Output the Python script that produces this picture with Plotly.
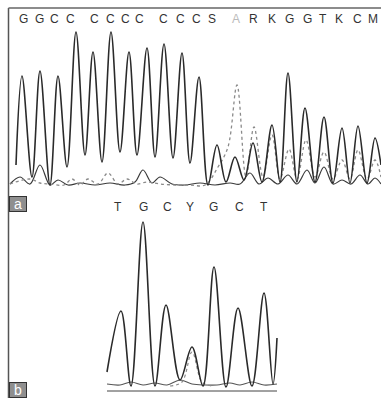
import plotly.graph_objects as go

# ---------------- Panel a: base calls ----------------
a_bases = ["G", "G", "C", "C", "C", "C", "C", "C", "C", "C",
           "C", "S", "A", "R", "K", "G", "G", "T", "K", "C", "M"]
a_base_pos = [23, 39, 54, 70, 94, 110, 125, 139, 163, 180,
              196, 212, 236, 253, 272, 289, 307, 323, 339, 357, 373]

# main (dark) trace: scan position / signal
a_main_pos = [16, 22, 32, 40, 50, 58, 67, 76, 85, 93, 102, 111, 120, 129, 137,
              147, 155, 164, 173, 182, 190, 199, 208, 217, 226, 235, 244, 253,
              262, 272, 280, 288, 297, 305, 315, 324, 333, 342, 350, 358, 367,
              375, 381]
a_main_sig = [22, 111, 10, 116, 2, 111, 20, 155, 32, 135, 25, 155, 35, 135, 32,
              139, 30, 143, 29, 134, 24, 110, 2, 42, 5, 30, 7, 44,
              5, 62, 5, 114, 5, 79, 5, 70, 4, 59, 4, 61, 4,
              49, 22]

# secondary (dotted grey) trace
a_dot_pos = [10, 30, 40, 50, 64, 72, 80, 88, 98, 108, 118, 127, 137, 147, 160,
             175, 190, 205, 218, 228, 237, 246, 254, 263, 272, 280, 289, 297,
             306, 315, 324, 333, 342, 350, 358, 367, 375, 381]
a_dot_sig = [3, 8, 4, 3, 2, 8, 2, 8, 3, 14, 3, 8, 3, 5, 3,
             2, 2, 2, 20, 40, 102, 10, 60, 10, 52, 8, 38, 8,
             47, 10, 35, 8, 27, 8, 37, 8, 27, 10]

# low dark trace
a_low_pos = [10, 20, 30, 40, 50, 58, 68, 80, 95, 110, 125, 135, 143, 152, 160,
             172, 185, 200, 215, 230, 240, 250, 259, 268, 278, 288, 297, 307,
             315, 324, 333, 342, 351, 360, 368, 375, 381]
a_low_sig = [3, 10, 3, 22, 2, 7, 2, 4, 2, 4, 2, 5, 17, 4, 10,
             3, 2, 4, 2, 4, 3, 14, 3, 9, 3, 12, 3, 17,
             4, 20, 3, 7, 3, 12, 3, 9, 3]

# ---------------- Panel b ----------------
b_bases = ["T", "G", "C", "Y", "G", "C", "T"]
b_base_pos = [118, 143, 167, 190, 213, 239, 264]

b_main_pos = [107, 121, 131, 143, 155, 166, 180, 192, 203, 214, 226, 238,
              252, 264, 273, 277]
b_main_sig = [16, 77, 2, 166, 2, 83, 8, 41, 2, 121, 1, 80, 2, 95, 4, 50]

b_alt_pos = [170, 182, 192, 202, 212]
b_alt_sig = [2, 6, 36, 6, 2]

b_low_pos = [107, 120, 131, 143, 155, 167, 180, 192, 205, 217, 230, 240,
             252, 264, 277]
b_low_sig = [4, 3, 6, 3, 5, 3, 8, 4, 3, 3, 5, 3, 6, 3, 4]

W, H = 381, 398
fig = go.Figure()


def add(x, y, yaxis, color, width, dash="solid"):
    fig.add_trace(go.Scatter(
        x=x, y=y, xaxis="x", yaxis=yaxis, mode="lines",
        line=dict(color=color, width=width, dash=dash, shape="spline",
                  smoothing=1.0),
        hoverinfo="skip", showlegend=False))


add(a_low_pos, a_low_sig, "y", "#3a3a3a", 1.2)
add(a_dot_pos, a_dot_sig, "y", "#8a8a8a", 1.3, "dot")
add(a_main_pos, a_main_sig, "y", "#2a2a2a", 1.6)

bx = [min(b_main_pos), max(b_main_pos)]
add(bx, [-3, -3], "y2", "#444444", 1.0)
add(b_low_pos, b_low_sig, "y2", "#555555", 1.1)
add(b_alt_pos, b_alt_sig, "y2", "#8a8a8a", 1.2, "dot")
add(b_main_pos, b_main_sig, "y2", "#2a2a2a", 1.6)

ann = []
for b, p in zip(a_bases, a_base_pos):
    ann.append(dict(x=p, y=168, xref="x", yref="y", text=b, showarrow=False,
                    font=dict(family="Liberation Sans, Arial", size=12,
                              color="#bbbbbb" if b == "A" else "#333333")))
for b, p in zip(b_bases, b_base_pos):
    ann.append(dict(x=p, y=181, xref="x", yref="y2", text=b, showarrow=False,
                    font=dict(family="Liberation Sans, Arial", size=12,
                              color="#333333")))
for lab, top in (("a", 196), ("b", 382)):
    ann.append(dict(x=9 / W, y=1 - top / H, xref="paper", yref="paper",
                    xanchor="left", yanchor="top", text=lab, showarrow=False,
                    bgcolor="#8f8f8f", bordercolor="#333333", borderwidth=1,
                    borderpad=0, width=16, height=14,
                    font=dict(family="Liberation Sans, Arial", size=14,
                              color="#ffffff")))

shapes = [
    dict(type="line", xref="paper", yref="paper", x0=8.5 / W, x1=8.5 / W,
         y0=0, y1=1 - 8 / H, line=dict(color="#555555", width=1.5)),
    dict(type="line", xref="paper", yref="paper", x0=8.5 / W, x1=1,
         y0=1 - 8 / H, y1=1 - 8 / H, line=dict(color="#666666", width=1.5)),
]

fig.update_layout(
    width=W, height=H, margin=dict(l=0, r=0, t=0, b=0),
    paper_bgcolor="white", plot_bgcolor="white",
    xaxis=dict(range=[0, W], domain=[0, 1], visible=False, fixedrange=True),
    yaxis=dict(range=[-8, 179], domain=[1 - 195 / H, 1 - 8 / H],
               visible=False, anchor="x", fixedrange=True),
    yaxis2=dict(range=[-10, 188], domain=[0, 1 - 200 / H], visible=False,
                anchor="x", fixedrange=True),
    annotations=ann, shapes=shapes,
)

fig.write_html(
    "out.html",
    config={"displayModeBar": False, "staticPlot": True},
    post_script="document.body.style.margin='0';"
                "document.body.style.overflow='hidden';",
)
